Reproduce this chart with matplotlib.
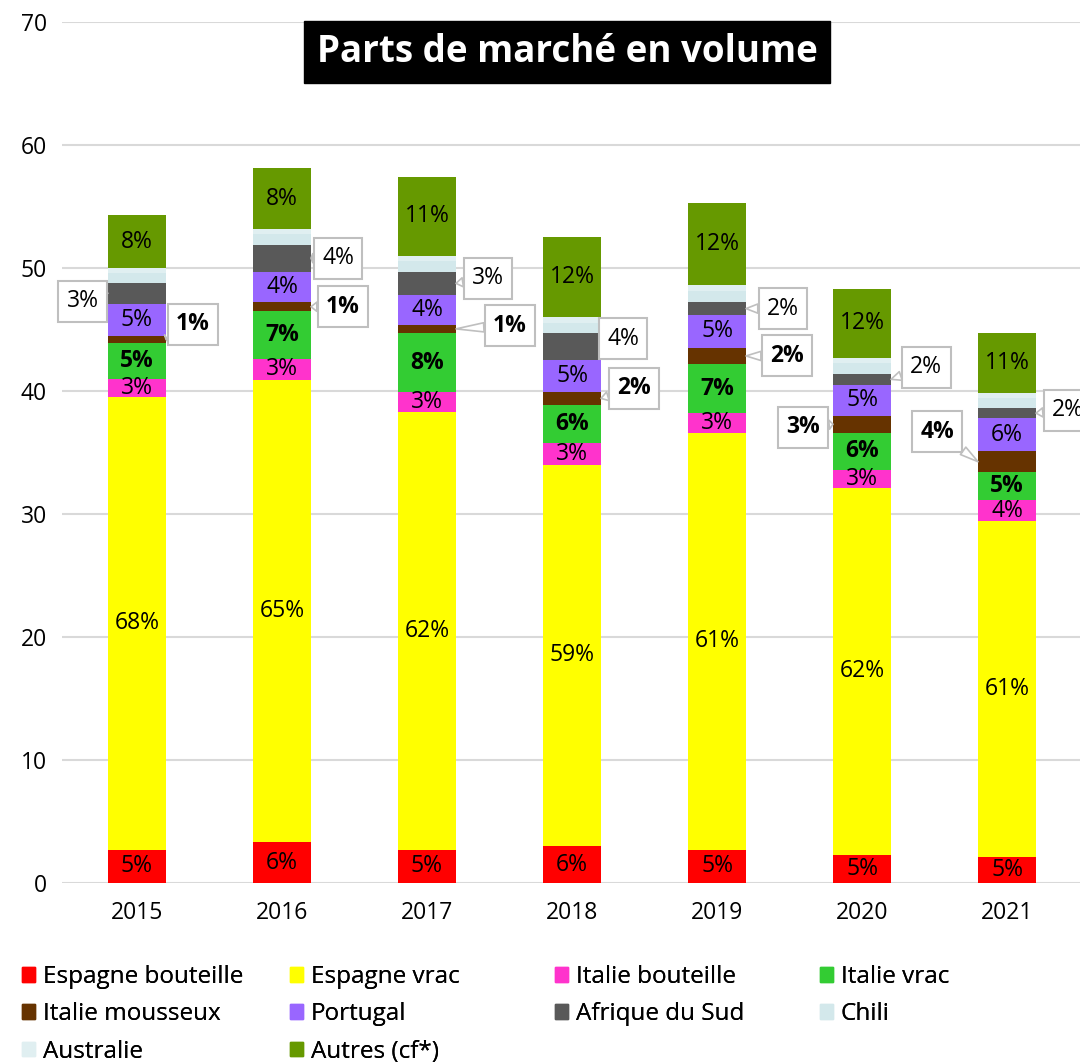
import matplotlib
matplotlib.use("Agg")
import matplotlib.pyplot as plt
from matplotlib.patches import Patch
import numpy as np

plt.rcParams['font.family'] = ['Open Sans', 'DejaVu Sans']

years = ["2015", "2016", "2017", "2018", "2019", "2020", "2021"]

series = ["Espagne bouteille", "Espagne vrac", "Italie bouteille", "Italie vrac",
          "Italie mousseux", "Portugal", "Afrique du Sud", "Chili",
          "Australie", "Autres (cf*)"]
colors = ["#ff0000", "#ffff00", "#ff33cc", "#33cc33", "#663300",
          "#9966ff", "#595959", "#d3e8eb", "#e0eff1", "#669900"]

# volumes
espagne_bouteille = [2.7, 3.3, 2.7, 3.0, 2.7, 2.3, 2.1]
espagne_vrac = [36.8, 37.6, 35.6, 31.0, 33.9, 29.8, 27.3]
italie_bouteille = [1.5, 1.7, 1.6, 1.8, 1.6, 1.5, 1.7]
italie_vrac = [2.9, 3.9, 4.8, 3.1, 4.0, 3.0, 2.3]
italie_mousseux = [0.6, 0.7, 0.7, 1.0, 1.3, 1.4, 1.7]
portugal = [2.6, 2.5, 2.4, 2.6, 2.7, 2.5, 2.7]
afrique_sud = [1.7, 2.2, 1.9, 2.2, 1.0, 0.9, 0.8]
chili = [0.8, 0.85, 0.85, 0.85, 0.9, 0.85, 0.8]
australie = [0.4, 0.45, 0.45, 0.45, 0.5, 0.45, 0.4]
autres = [4.3, 4.9, 6.4, 6.5, 6.7, 5.6, 4.9]

data = [espagne_bouteille, espagne_vrac, italie_bouteille, italie_vrac,
        italie_mousseux, portugal, afrique_sud, chili, australie, autres]

# which series get a label inside the bar, bold ones
inside = [0, 1, 2, 3, 5, 9]
bold = [3, 4]

# callouts: series index -> (side of bar, offsets in pixels per year)
callouts = {
    6: ([-1, 1, 1, 1, 1, 1, 1],
        [(-25, -8), (27, 0), (32, 5), (22, 8), (37, 0), (35, 12), (32, 3)]),
    4: ([1, 1, 1, 1, 1, -1, -1],
        [(27, 15), (32, 0), (54, 3), (33, 10), (41, 0), (-30, -3), (-41, 30)]),
}

FS = 16.5


def main():
    fig = plt.figure(figsize=(10.8, 10.62), dpi=100)
    ax = fig.add_axes([62 / 1080, 179 / 1062, 1020 / 1080, 861 / 1062])

    x = np.arange(len(years))
    w = 0.4
    vals = np.array(data)
    totals = vals.sum(axis=0)
    bottoms = np.vstack([np.zeros(len(years)), np.cumsum(vals, axis=0)[:-1]])

    for k in range(len(series)):
        ax.bar(x, vals[k], w, bottom=bottoms[k], color=colors[k], zorder=2)

    for k in inside:
        for i in range(len(years)):
            pct = round(100 * vals[k][i] / totals[i])
            ax.text(x[i], bottoms[k][i] + vals[k][i] / 2, f"{pct}%",
                    ha="center", va="center", fontsize=FS,
                    fontweight="bold" if k in bold else "normal", zorder=3)

    for k, (sides, offs) in callouts.items():
        for i in range(len(years)):
            pct = round(100 * vals[k][i] / totals[i])
            ax.annotate(f"{pct}%",
                        xy=(x[i] + sides[i] * w / 2, bottoms[k][i] + vals[k][i] / 2),
                        xytext=offs[i], textcoords="offset pixels",
                        ha="center", va="center", fontsize=FS,
                        fontweight="bold" if k in bold else "normal",
                        bbox=dict(boxstyle="square,pad=0.37", fc="white",
                                  ec="#bfbfbf", lw=1.5),
                        arrowprops=dict(arrowstyle="wedge,tail_width=0.4",
                                        fc="white", ec="#bfbfbf", lw=1.2,
                                        shrinkA=0, shrinkB=0),
                        zorder=4, annotation_clip=False)

    ax.set_xlim(-0.517, len(years) - 0.483)
    ax.set_ylim(0, 70)
    ax.set_yticks(range(0, 71, 10))
    ax.set_xticks(x)
    ax.set_xticklabels(years)
    ax.tick_params(axis="both", length=0, labelsize=FS)
    ax.tick_params(axis="y", pad=11)
    ax.tick_params(axis="x", pad=13)
    ax.grid(axis="y", color="#d9d9d9", lw=1.5, zorder=0)
    ax.set_axisbelow(True)
    for s in ax.spines.values():
        s.set_visible(False)

    fig.text(567 / 1080, 1 - 52 / 1062, "Parts de marché en volume",
             ha="center", va="center", color="white", fontsize=26.5,
             fontweight="bold",
             bbox=dict(boxstyle="square,pad=0.33", fc="black", ec="black"))

    col_x = [22, 290, 555, 820]
    for c in range(4):
        idx = list(range(c, len(series), 4))
        handles = [Patch(color=colors[k]) for k in idx]
        leg = fig.legend(handles, [series[k] for k in idx], loc="upper left",
                         bbox_to_anchor=(col_x[c] / 1080, 1 - 965 / 1062),
                         frameon=False, fontsize=17.5, handlelength=0.55,
                         handleheight=0.55, handletextpad=0.3,
                         labelspacing=0.55, borderpad=0, borderaxespad=0)
        fig.add_artist(leg)

    fig.savefig("out.png", dpi=100)


if __name__ == "__main__":
    main()
